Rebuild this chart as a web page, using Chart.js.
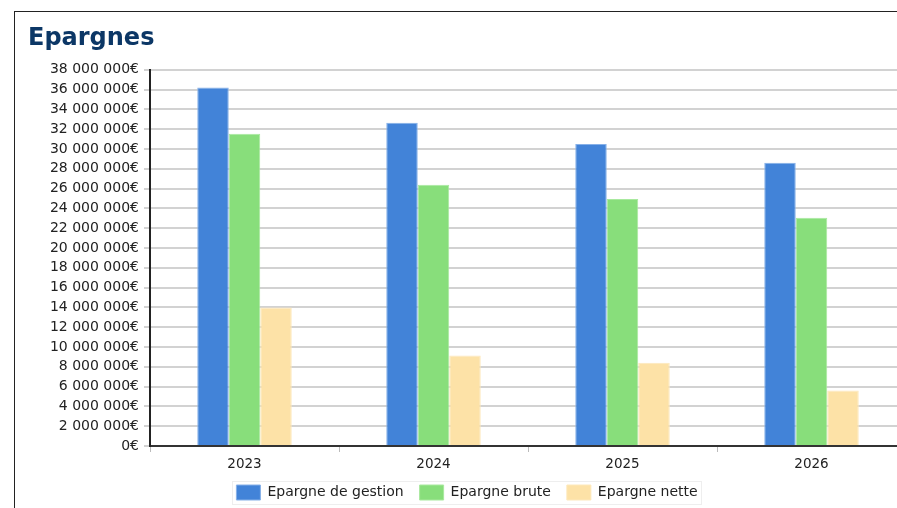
<!DOCTYPE html>
<html>
<head>
<meta charset="utf-8">
<script src="https://cdn.jsdelivr.net/npm/chart.js@4.4.1/dist/chart.umd.min.js"></script>
<style>
  html, body { margin: 0; padding: 0; background: #fff; overflow: hidden; width: 897px; height: 508px; }
  #frame { position: absolute; left: 14px; top: 11px; border-top: 1px solid #222; border-left: 1px solid #222; width: 900px; height: 500px; }
  #c { display: block; }
</style>
</head>
<body>
<div id="frame"><canvas id="c" width="900" height="500" style="width:900px;height:500px"></canvas></div>
<script>
const categories = ['2023', '2024', '2025', '2026'];
const epargneGestion = [36200000, 32650000, 30500000, 28600000];
const epargneBrute = [31550000, 26400000, 24950000, 23050000];
const epargneNette = [13980000, 9150000, 8400000, 5600000];
const seriesLabels = ['Epargne de gestion', 'Epargne brute', 'Epargne nette'];
const yMin = 0, yMax = 38000000, yStep = 2000000;

function fmtEuro(v) {
  return String(Math.round(v)).replace(/\B(?=(\d{3})+(?!\d))/g, ' ') + '€';
}

const FONT = "'DejaVu Sans', sans-serif";

const legendBorder = {
  id: 'legendBorder',
  afterDraw(chart) {
    const lg = chart.legend;
    if (!lg || !lg.legendHitBoxes || !lg.legendHitBoxes.length) return;
    const hb = lg.legendHitBoxes;
    const left = hb[0].left - 4;
    const right = hb[hb.length - 1].left + hb[hb.length - 1].width + 4;
    const top = Math.min(...hb.map(h => h.top)) - 4;
    const bottom = Math.max(...hb.map(h => h.top + h.height)) + 4;
    const ctx = chart.ctx;
    ctx.save();
    ctx.strokeStyle = '#eeeeee';
    ctx.lineWidth = 1;
    ctx.strokeRect(Math.round(left) + 0.5, Math.round(top) + 0.5, Math.round(right - left), Math.round(bottom - top));
    ctx.restore();
  }
};

new Chart(document.getElementById('c'), {
  type: 'bar',
  data: {
    labels: categories,
    datasets: [
      { label: seriesLabels[0], data: epargneGestion, backgroundColor: '#4283d8', borderColor: '#86b0e8', borderWidth: 1 },
      { label: seriesLabels[1], data: epargneBrute, backgroundColor: '#88de7b', borderColor: '#a8e99e', borderWidth: 1 },
      { label: seriesLabels[2], data: epargneNette, backgroundColor: '#fde2a7', borderColor: '#fde8bb', borderWidth: 1 }
    ]
  },
  options: {
    responsive: false,
    animation: false,
    devicePixelRatio: 1,
    layout: { padding: { left: 13, right: 9, top: 0, bottom: 2 } },
    datasets: { bar: { categoryPercentage: 0.5, barPercentage: 1.0 } },
    plugins: {
      title: {
        display: true, text: 'Epargnes', align: 'start', color: '#0c3766',
        font: { family: FONT, size: 24, weight: 'bold' },
        padding: { top: 12, bottom: 17 }
      },
      legend: {
        position: 'bottom',
        labels: {
          font: { family: FONT, size: 14 }, color: '#222',
          boxWidth: 24, boxHeight: 15, padding: 16
        }
      },
      tooltip: { enabled: false }
    },
    scales: {
      x: {
        grid: { display: true, drawOnChartArea: false, offset: true, tickLength: 6, color: '#bbbbbb', lineWidth: 1 },
        border: { display: true, color: '#333', width: 2 },
        ticks: { font: { family: FONT, size: 13.5 }, color: '#222', padding: 4 },
        afterFit(s) { s.height = 23; }
      },
      y: {
        min: yMin, max: yMax,
        grid: { color: '#d2d2d2', lineWidth: 2, tickLength: 6 },
        border: { display: true, color: '#222', width: 2 },
        ticks: { stepSize: yStep, autoSkip: false, font: { family: FONT, size: 14 }, color: '#222', padding: 5, callback: v => fmtEuro(v) },
        afterFit(s) { s.width = 122; }
      }
    }
  },
  plugins: [legendBorder]
});
</script>
</body>
</html>
